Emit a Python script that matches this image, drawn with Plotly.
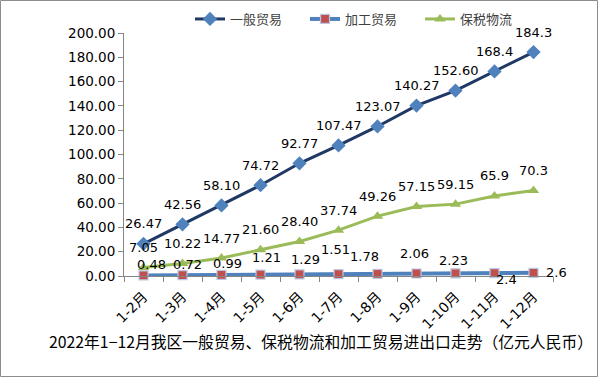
import plotly.graph_objects as go

categories = ["1-2月", "1-3月", "1-4月", "1-5月", "1-6月", "1-7月", "1-8月", "1-9月", "1-10月", "1-11月", "1-12月"]
general_trade = [26.47, 42.56, 58.10, 74.72, 92.77, 107.47, 123.07, 140.27, 152.60, 168.4, 184.3]
general_labels = ["26.47", "42.56", "58.10", "74.72", "92.77", "107.47", "123.07", "140.27", "152.60", "168.4", "184.3"]
processing_trade = [0.48, 0.72, 0.99, 1.21, 1.29, 1.51, 1.78, 2.06, 2.23, 2.4, 2.6]
processing_labels = ["0.48", "0.72", "0.99", "1.21", "1.29", "1.51", "1.78", "2.06", "2.23", "2.4", "2.6"]
bonded_logistics = [7.05, 10.22, 14.77, 21.60, 28.40, 37.74, 49.26, 57.15, 59.15, 65.9, 70.3]
bonded_labels = ["7.05", "10.22", "14.77", "21.60", "28.40", "37.74", "49.26", "57.15", "59.15", "65.9", "70.3"]
y_ticks = [0, 20, 40, 60, 80, 100, 120, 140, 160, 180, 200]

# label pixel offsets (style only)
proc_dx = [8, 5, 6, 6, 6, -3, -13, -2, -2, 12, 23]
proc_dy = [11, 11, 11, 17, 15, 25, 17, 20, 13, -6, 0]

NUM_FONT = "DejaVu Sans, Noto Sans CJK SC, sans-serif"
CJK_FONT = "Noto Sans CJK SC, sans-serif"

# plot area in pixels
L, R, T, B = 124, 553, 33, 276
W, H = 599, 378
pw, ph = R - L, B - T

fig = go.Figure()

fig.add_trace(go.Scatter(
    x=categories, y=bonded_logistics, name="保税物流", mode="lines+markers",
    line=dict(color="#9BBB59", width=3),
    marker=dict(symbol="triangle-up", size=10, color="#9BBB59"),
    legendrank=3, cliponaxis=False, hoverinfo="skip",
))
fig.add_trace(go.Scatter(
    x=categories, y=processing_trade, name="加工贸易", mode="lines+markers",
    line=dict(color="#4F81BD", width=4),
    marker=dict(symbol="square", size=9, color="#C0504D", line=dict(color="#B9C6E4", width=1.2)),
    legendrank=2, cliponaxis=False, hoverinfo="skip",
))
fig.add_trace(go.Scatter(
    x=categories, y=general_trade, name="一般贸易", mode="lines+markers",
    line=dict(color="#1F3864", width=3),
    marker=dict(symbol="diamond", size=11, color="#4F81BD"),
    legendrank=1, cliponaxis=False, hoverinfo="skip",
))

annotations = []
for c, v, t in zip(categories, general_trade, general_labels):
    annotations.append(dict(x=c, y=v, text=t, showarrow=False, yshift=20, xanchor="center", yanchor="middle",
                            font=dict(family=NUM_FONT, size=13, color="#000000")))
for c, v, t in zip(categories, bonded_logistics, bonded_labels):
    annotations.append(dict(x=c, y=v, text=t, showarrow=False, yshift=20, xanchor="center", yanchor="middle",
                            font=dict(family=NUM_FONT, size=13, color="#000000")))
for c, v, t, dx, dy in zip(categories, processing_trade, processing_labels, proc_dx, proc_dy):
    annotations.append(dict(x=c, y=v, text=t, showarrow=False, xshift=dx, yshift=dy, xanchor="center", yanchor="middle",
                            font=dict(family=NUM_FONT, size=13, color="#000000")))

annotations.append(dict(
    xref="paper", yref="paper", x=(321 - L) / pw, y=(B - 342) / ph,
    text="2022年1−12月我区一般贸易、保税物流和加工贸易进出口走势（亿元人民币）",
    showarrow=False, xanchor="center", yanchor="middle",
    font=dict(family=CJK_FONT, size=15.8, color="#000000"),
))

fig.update_layout(
    width=W, height=H,
    margin=dict(l=L, r=W - R, t=T, b=H - B, autoexpand=False),
    paper_bgcolor="#FFFFFF", plot_bgcolor="#FFFFFF",
    showlegend=True,
    legend=dict(
        orientation="h", x=(190 - L) / pw, y=(B - 19) / ph, xanchor="left", yanchor="middle",
        font=dict(family=CJK_FONT, size=13, color="#404040"),
        itemwidth=30, entrywidth=70, entrywidthmode="pixels",
        bgcolor="rgba(0,0,0,0)",
    ),
    xaxis=dict(
        type="category", range=[-0.5, 10.5], tickson="boundaries",
        showline=True, linecolor="#868686", linewidth=1,
        ticks="outside", ticklen=5, tickcolor="#868686",
        tickangle=-45, tickfont=dict(family=NUM_FONT, size=14, color="#000000"),
        ticklabelstandoff=6,
        showgrid=False, zeroline=False,
    ),
    yaxis=dict(
        range=[0, 200], tickvals=y_ticks, tickformat=".2f",
        showline=True, linecolor="#868686", linewidth=1,
        ticks="outside", ticklen=5, tickcolor="#868686",
        tickfont=dict(family=NUM_FONT, size=13.5, color="#000000"),
        showgrid=False, zeroline=False,
    ),
    hovermode=False,
    annotations=annotations,
    shapes=[dict(
        type="rect", xref="paper", yref="paper",
        x0=(0.5 - L) / pw, x1=(597.5 - L) / pw,
        y0=(B - 376.5) / ph, y1=(B - 0.5) / ph,
        line=dict(color="#8C8C8C", width=1), fillcolor="rgba(0,0,0,0)", layer="below",
    )],
)

fig.write_html("out.html", config={"displayModeBar": False, "staticPlot": True},
               post_script="document.body.style.margin='0';document.body.style.overflow='hidden';")
